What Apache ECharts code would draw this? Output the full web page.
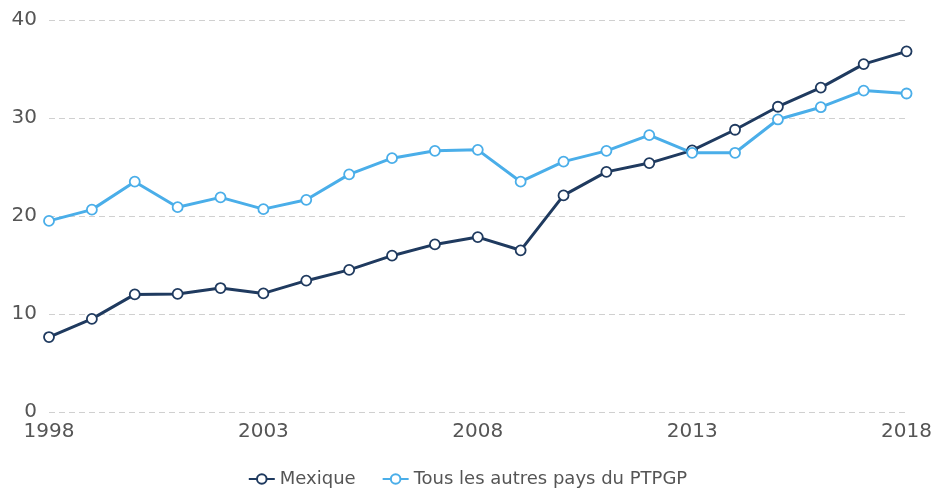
<!DOCTYPE html>
<html>
<head>
<meta charset="utf-8">
<script src="https://cdn.jsdelivr.net/npm/echarts@6/dist/echarts.min.js"></script>
<style>
  html, body { margin: 0; padding: 0; background: #fff; }
  #chart { width: 935px; height: 491px; }
</style>
</head>
<body>
<div id="chart"></div>
<script>
const years = ['1998','1999','2000','2001','2002','2003','2004','2005','2006','2007','2008',
               '2009','2010','2011','2012','2013','2014','2015','2016','2017','2018'];
const mexique = [7.65, 9.5, 12.0, 12.05, 12.65, 12.1, 13.4, 14.5, 15.95, 17.1, 17.85,
                 16.5, 22.1, 24.5, 25.4, 26.7, 28.8, 31.15, 33.1, 35.5, 36.8];
const autres = [19.5, 20.65, 23.5, 20.9, 21.9, 20.7, 21.65, 24.25, 25.9, 26.65, 26.75,
                23.5, 25.55, 26.65, 28.25, 26.45, 26.45, 29.85, 31.1, 32.8, 32.5];
const seriesNames = ['Mexique', 'Tous les autres pays du PTPGP'];

const chart = echarts.init(document.getElementById('chart'));
const font = 'DejaVu Sans, Verdana, sans-serif';

function lineSeries(name, data, color) {
  return {
    name: name,
    type: 'line',
    data: data,
    symbol: 'circle',
    symbolSize: 10,
    showSymbol: true,
    lineStyle: { color: color, width: 3 },
    itemStyle: { color: '#fff', borderColor: color, borderWidth: 1.8 }
  };
}

chart.setOption({
  animation: false,
  textStyle: { fontFamily: font },
  grid: { left: 49, right: 28, top: 20, bottom: 79 },
  legend: {
    top: 465,
    left: 'center',
    itemGap: 26,
    itemWidth: 26,
    itemHeight: 12,
    textStyle: { fontFamily: font, fontSize: 18, color: '#555' },
    data: seriesNames
  },
  xAxis: {
    type: 'category',
    data: years,
    boundaryGap: false,
    axisLine: { show: false },
    axisTick: { show: false },
    axisLabel: { interval: 4, fontSize: 20, color: '#555', fontFamily: font, margin: 10 }
  },
  yAxis: {
    type: 'value',
    min: 0, max: 40, interval: 10,
    axisLine: { show: false },
    axisTick: { show: false },
    axisLabel: { fontSize: 20, color: '#555', fontFamily: font, margin: 12 },
    splitLine: { lineStyle: { type: [6, 4], color: '#d0d0d0', width: 1 } }
  },
  series: [
    lineSeries(seriesNames[0], mexique, '#1f3a5f'),
    lineSeries(seriesNames[1], autres, '#4aaee9')
  ]
});
</script>
</body>
</html>
